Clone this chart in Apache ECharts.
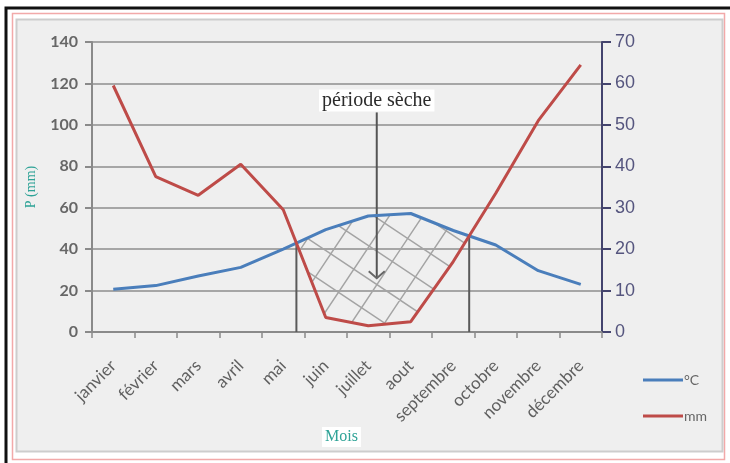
<!DOCTYPE html>
<html><head><meta charset="utf-8">
<script src="https://cdn.jsdelivr.net/npm/echarts@6/dist/echarts.min.js"></script>
<style>html,body{margin:0;padding:0;background:#fff}#c{width:730px;height:463px}</style>
</head><body><div id="c"></div>
<script>
// ---- data ----
const months = ['janvier','février','mars','avril','mai','juin','juillet','aout','septembre','octobre','novembre','décembre'];
const precipitation = [119, 75, 66, 81, 59, 7, 3, 5, 34, 67, 102, 129];   // mm (left axis)
const temperature = [10.3, 11.2, 13.5, 15.6, 20, 24.7, 28, 28.6, 24.5, 21, 14.8, 11.5]; // °C (right axis)
const leftAxisTicks = {min: 0, max: 140, interval: 20};
const rightAxisTicks = {min: 0, max: 70, interval: 10};
const seriesNames = ['°C', 'mm'];
const xAxisTitle = 'Mois';
const yAxisTitle = 'P (mm)';
const annotationText = 'période sèche';
const annotationArrow = {month: 6.2, from: 106, to: 26}; // in month index / left-axis units

// ---- hatch pattern (rotated square grid, periodic tile) ----
function makeHatch() {
  const P = 100, c = document.createElement('canvas');
  c.width = P; c.height = P;
  const g = c.getContext('2d');
  g.strokeStyle = '#a4a4a4'; g.lineWidth = 1.5;
  g.beginPath();
  for (let k = -4; k <= 5; k++) { // -2x + 3y = kP
    g.moveTo(-20, (2 * -20 + k * P) / 3);
    g.lineTo(P + 20, (2 * (P + 20) + k * P) / 3);
  }
  for (let k = -2; k <= 7; k++) { // 3x + 2y = kP
    g.moveTo(-20, (k * P - 3 * -20) / 2);
    g.lineTo(P + 20, (k * P - 3 * (P + 20)) / 2);
  }
  g.stroke();
  return c;
}
const hatchCanvas = makeHatch();

// dry period: where precipitation (mm) < 2 × temperature
function scaledT(i) { return temperature[i] * 2; }

function renderDry(params, api) {
  const pt = (i, v) => {
    const i0 = Math.floor(i), i1 = Math.min(i0 + 1, months.length - 1), f = i - i0;
    const a = api.coord([i0, v]), b = api.coord([i1, v]);
    return [a[0] + (b[0] - a[0]) * f, a[1]];
  };
  const diff = i => precipitation[i] - scaledT(i);
  const children = [];
  let i = 0;
  while (i < months.length - 1) {
    if (diff(i) >= 0 && diff(i + 1) < 0) {
      const start = i + diff(i) / (diff(i) - diff(i + 1));
      let j = i + 1;
      while (j < months.length - 1 && !(diff(j) < 0 && diff(j + 1) >= 0)) j++;
      const end = j + diff(j) / (diff(j) - diff(j + 1));
      const lerp = x => { const a = Math.floor(x), f = x - a; const b = Math.min(a + 1, months.length - 1); return precipitation[a] + (precipitation[b] - precipitation[a]) * f; };
      const sV = lerp(start), eV = lerp(end);
      const poly = [pt(start, sV)];
      for (let k = i + 1; k <= j; k++) poly.push(pt(k, scaledT(k)));
      poly.push(pt(end, eV));
      for (let k = j; k >= i + 1; k--) poly.push(pt(k, precipitation[k]));
      children.push({type: 'polygon', shape: {points: poly}, style: {fill: {image: hatchCanvas, repeat: 'repeat'}, stroke: null}});
      [[start, sV], [end, eV]].forEach(([x, v]) => {
        const p1 = pt(x, v), p0 = pt(x, 0);
        children.push({type: 'line', shape: {x1: p1[0], y1: p1[1], x2: p0[0], y2: p0[1]}, style: {stroke: '#5a5a5a', lineWidth: 2}});
      });
      i = j + 1;
    } else i++;
  }
  const top = pt(annotationArrow.month, annotationArrow.from), tip = pt(annotationArrow.month, annotationArrow.to);
  children.push({type: 'line', shape: {x1: top[0], y1: top[1], x2: tip[0], y2: tip[1]}, style: {stroke: '#555', lineWidth: 2}, z2: 5});
  children.push({type: 'polyline', shape: {points: [[tip[0] - 8, tip[1] - 7], tip, [tip[0] + 8, tip[1] - 7]]}, style: {stroke: '#666', lineWidth: 2, fill: null}, z2: 5});
  children.push({type: 'text', x: top[0], y: top[1] - 12, style: {text: annotationText, font: '20px "Liberation Serif", "DejaVu Serif", serif', fill: '#2b2b2b', align: 'center', verticalAlign: 'middle', backgroundColor: '#fff', padding: [1, 3, 1, 3]}, z2: 6});
  return {type: 'group', children};
}

const chart = echarts.init(document.getElementById('c'), null, {renderer: 'canvas'});
const labelFont = 'Lato, "Open Sans", sans-serif';
chart.setOption({
  backgroundColor: '#fff',
  animation: false,
  graphic: [
    {type: 'rect', shape: {x: 6, y: 8, width: 730, height: 470}, style: {fill: '#fff', stroke: '#111', lineWidth: 3}, z: -10, silent: true},
    {type: 'rect', shape: {x: 12.5, y: 13.5, width: 712, height: 446}, style: {fill: null, stroke: '#f2a9a9', lineWidth: 1.5}, z: -9, silent: true},
    {type: 'rect', shape: {x: 16.5, y: 19.5, width: 706, height: 432}, style: {fill: '#efefef', stroke: '#cdcdcd', lineWidth: 2}, z: -8, silent: true},
    {type: 'text', left: 322, top: 427, style: {text: xAxisTitle, font: '16px "Liberation Serif", serif', fill: '#2fa397', backgroundColor: '#fff', padding: [2, 3, 2, 3]}, z: 10}
  ],
  grid: {left: 92, right: 128, top: 42, bottom: 131, containLabel: false},
  legend: {
    data: seriesNames, orient: 'vertical', left: 638, top: 368, itemGap: 22,
    itemWidth: 40, itemHeight: 3, icon: 'rect', selectedMode: false,
    textStyle: {fontFamily: labelFont, fontSize: 14, color: '#666', padding: [0, 0, 0, -4]}
  },
  xAxis: {
    type: 'category', data: months, boundaryGap: true,
    axisLine: {lineStyle: {color: '#8a8a8a', width: 2}},
    axisTick: {show: true, length: 6, lineStyle: {color: '#8a8a8a', width: 1.5}},
    axisLabel: {rotate: 45, margin: 31, fontFamily: labelFont, fontSize: 17, color: '#606060', interval: 0},
    splitLine: {show: false}
  },
  yAxis: [
    {
      type: 'value', position: 'left', ...leftAxisTicks,
      name: yAxisTitle, nameLocation: 'middle', nameGap: 54, nameRotate: 90,
      nameTextStyle: {fontFamily: '"Liberation Serif", serif', fontSize: 14, color: '#2fa397'},
      axisLine: {show: true, lineStyle: {color: '#8a8a8a', width: 2}},
      axisTick: {show: true, length: 7, lineStyle: {color: '#8a8a8a', width: 2}},
      axisLabel: {margin: 14, fontFamily: labelFont, fontSize: 16, fontWeight: 'bold', color: '#676767'},
      splitLine: {show: true, lineStyle: {color: '#a6a6a6', width: 2}}
    },
    {
      type: 'value', position: 'right', ...rightAxisTicks,
      axisLine: {show: true, lineStyle: {color: '#44446e', width: 2}},
      axisTick: {show: true, length: 9, lineStyle: {color: '#44446e', width: 2}},
      axisLabel: {margin: 13, fontFamily: '"Liberation Sans Narrow", "Liberation Sans", sans-serif', fontSize: 18, color: '#55557e'},
      splitLine: {show: false}
    }
  ],
  series: [
    {type: 'custom', z: 1, yAxisIndex: 0, clip: false, data: [[0]], renderItem: renderDry, silent: true},
    {name: seriesNames[0], type: 'line', yAxisIndex: 1, data: temperature, symbol: 'none',
     lineStyle: {color: '#4a7ebb', width: 3}, itemStyle: {color: '#4a7ebb'}, z: 3},
    {name: seriesNames[1], type: 'line', yAxisIndex: 0, data: precipitation, symbol: 'none',
     lineStyle: {color: '#be4b48', width: 3}, itemStyle: {color: '#be4b48'}, z: 3}
  ]
});
</script></body></html>
